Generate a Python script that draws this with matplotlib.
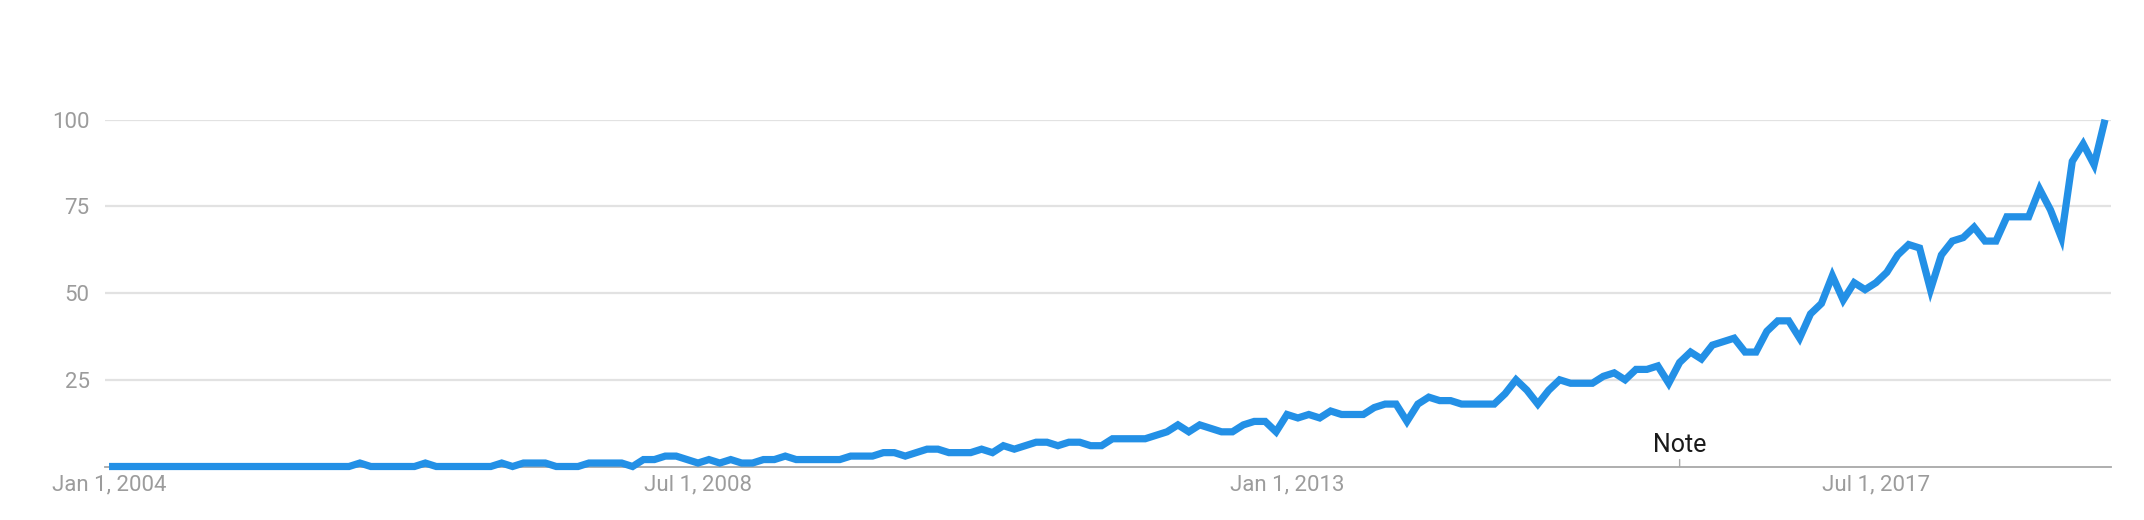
import matplotlib
matplotlib.use("Agg")
import matplotlib.pyplot as plt
import numpy as np

plt.rcParams['font.family'] = ['Roboto', 'DejaVu Sans']

# Monthly interest, Jan 2004 .. Apr 2019
interest = (
    [0] * 23 + [1] + [0] * 5 + [1] + [0] * 6 + [1, 0, 1, 1, 1, 0, 0, 0, 1, 1, 1, 1, 0]
    + [2, 2, 3, 3, 2, 1, 2, 1, 2, 1, 1, 2, 2, 3, 2, 2, 2, 2, 2, 3, 3, 3, 4, 4, 3, 4,
       5, 5, 4, 4, 4, 5, 4, 6, 5, 6, 7, 7, 6, 7, 7, 6, 6]
    + [8, 8, 8, 8, 9, 10, 12, 10, 12, 11, 10, 10, 12, 13, 13, 10, 15, 14, 15, 14, 16,
       15, 15, 15, 17, 18, 18, 13, 18, 20, 19, 19, 18, 18, 18, 18, 21, 25, 22, 18, 22,
       25, 24, 24, 24, 26]
    + [27, 25, 28, 28, 29, 24, 30, 33, 31, 35, 36, 37, 33, 33, 39, 42, 42, 37, 44, 47,
       55, 48, 53, 51, 53, 56, 61, 64, 63, 51, 61, 65, 66, 69, 65, 65, 72, 72, 72, 80,
       74, 66, 88, 93, 87, 100]
)
months = np.arange(len(interest))

x_tick_months = [0, 54, 108, 162]
x_tick_labels = ["Jan 1, 2004", "Jul 1, 2008", "Jan 1, 2013", "Jul 1, 2017"]
y_ticks = [25, 50, 75, 100]
note_month = 144
note_label = "Note"

W, H = 2144, 520
fig = plt.figure(figsize=(W / 100, H / 100), dpi=100)
ax = fig.add_axes([105 / W, 1 - 466.5 / H, (2111 - 105) / W, (466.5 - 119.7) / H])

ax.plot(months, interest, color="#2390E6", lw=5.2, solid_joinstyle="miter",
        solid_capstyle="butt", clip_on=False, zorder=3)

ax.set_xlim(-0.37, len(interest) - 1 + 0.55)
ax.set_ylim(0, 100)

ax.set_yticks(y_ticks)
ax.set_yticklabels([str(v) for v in y_ticks])
ax.yaxis.grid(True, color="#E2E2E2", lw=1.6)
ax.set_axisbelow(True)

ax.set_xticks(x_tick_months)
ax.set_xticklabels(x_tick_labels)

ax.tick_params(axis="both", length=0, labelsize=16, labelcolor="#9C9C9C")
ax.tick_params(axis="y", pad=11)
ax.tick_params(axis="x", pad=6)

for s in ["top", "right", "left"]:
    ax.spines[s].set_visible(False)
ax.spines["bottom"].set_color("#A8A8A8")
ax.spines["bottom"].set_linewidth(1.3)
ax.spines["bottom"].set_zorder(2)

ax.annotate("", xy=(note_month, 0), xytext=(0, 5), textcoords="offset points",
            arrowprops=dict(arrowstyle="-", color="#A8A8A8", lw=1.0,
                            shrinkA=0, shrinkB=0))
ax.annotate(note_label, xy=(note_month, 0), xytext=(0, 7), textcoords="offset points",
            ha="center", va="bottom", fontsize=18, color="#1A1A1A")

fig.savefig("out.png", dpi=100, facecolor="white")
